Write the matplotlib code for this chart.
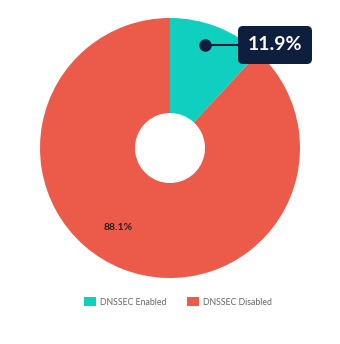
import matplotlib.pyplot as plt
from matplotlib.patches import Patch, FancyBboxPatch

labels = ['DNSSEC Enabled', 'DNSSEC Disabled']
values = [11.9, 88.1]
colors = ['#0fcfbf', '#ec5a4a']

plt.rcParams['font.family'] = ['Lato', 'DejaVu Sans']

fig = plt.figure(figsize=(3.4, 3.44), dpi=100)
ax = fig.add_axes([0, 0, 1, 1])

cx, cy, r = 170, 344 - 148, 130
ax.pie(values, colors=colors, startangle=90, counterclock=False,
       center=(cx, cy), radius=r, frame=True,
       wedgeprops=dict(width=r - 35, linewidth=0))
ax.set_xlim(0, 340)
ax.set_ylim(0, 344)
ax.set_aspect('equal')
ax.axis('off')

# small label for big slice
ax.text(118, 344 - 228, f'{values[1]}%', fontsize=7.5, fontweight='bold',
        color='#222222', ha='center', va='center')

# callout for small slice
ax.plot([205, 240], [344 - 45, 344 - 45], color='#0e1f3d', lw=1.5)
ax.plot(205, 344 - 45, 'o', color='#0e1f3d', ms=8)
box = FancyBboxPatch((238, 344 - 64), 74, 38,
                     boxstyle='round,pad=0,rounding_size=5',
                     fc='#0e1f3d', ec='none')
ax.add_patch(box)
ax.text(275, 344 - 45, f'{values[0]}%', fontsize=14, fontweight='bold',
        color='white', ha='center', va='center')

handles = [Patch(facecolor=c, edgecolor='none') for c in colors]
ax.legend(handles, labels, loc='center', bbox_to_anchor=(178, 344 - 302),
          bbox_transform=ax.transData, ncol=2, frameon=False, fontsize=6.3,
          labelcolor='#666666', handlelength=1.4, handleheight=1.1,
          columnspacing=2.3, handletextpad=0.5)

fig.savefig('out.png', dpi=100)
